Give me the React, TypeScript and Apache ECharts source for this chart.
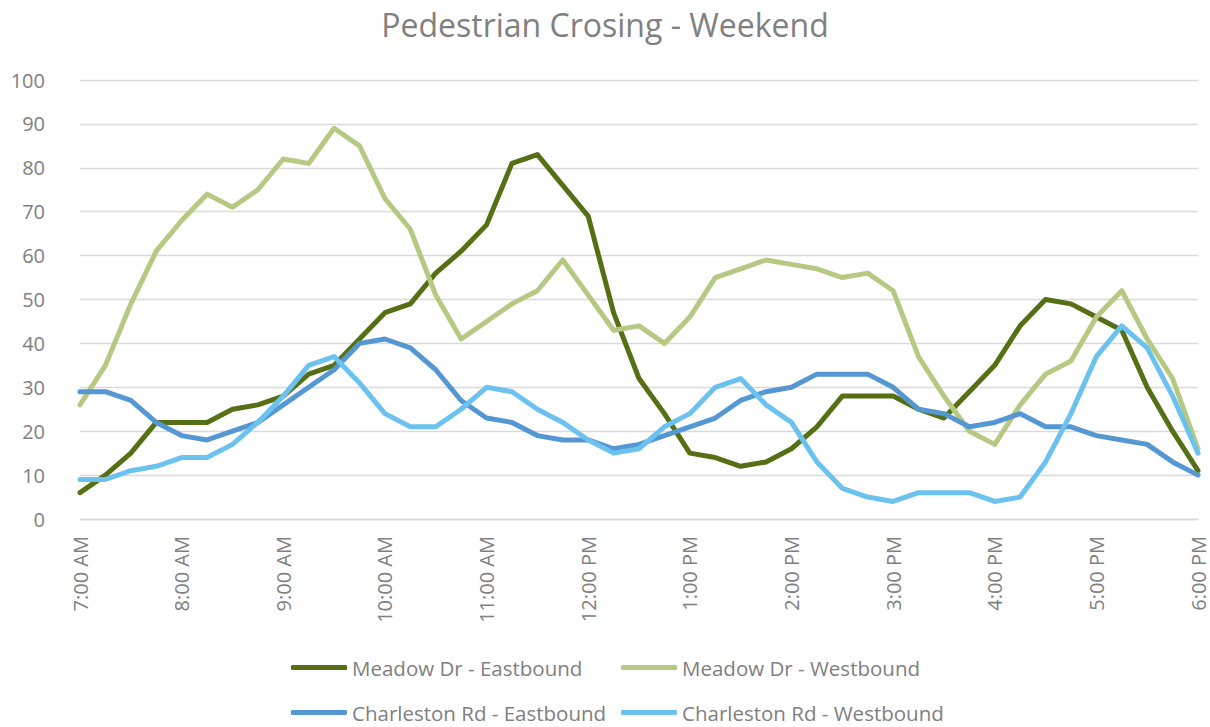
import React, { useEffect, useRef } from "react";
import * as echarts from "echarts";

const times: string[] = [
  "7:00 AM","7:15 AM","7:30 AM","7:45 AM",
  "8:00 AM","8:15 AM","8:30 AM","8:45 AM",
  "9:00 AM","9:15 AM","9:30 AM","9:45 AM",
  "10:00 AM","10:15 AM","10:30 AM","10:45 AM",
  "11:00 AM","11:15 AM","11:30 AM","11:45 AM",
  "12:00 PM","12:15 PM","12:30 PM","12:45 PM",
  "1:00 PM","1:15 PM","1:30 PM","1:45 PM",
  "2:00 PM","2:15 PM","2:30 PM","2:45 PM",
  "3:00 PM","3:15 PM","3:30 PM","3:45 PM",
  "4:00 PM","4:15 PM","4:30 PM","4:45 PM",
  "5:00 PM","5:15 PM","5:30 PM","5:45 PM",
  "6:00 PM",
];

const meadowEast: number[] = [
  6, 10, 15, 22, 22, 22, 25, 26, 28, 33, 35, 41, 47, 49, 56, 61, 67, 81, 83, 76,
  69, 47, 32, 24, 15, 14, 12, 13, 16, 21, 28, 28, 28, 25, 23, 29, 35, 44, 50, 49,
  46, 43, 30, 20, 11,
];
const meadowWest: number[] = [
  26, 35, 49, 61, 68, 74, 71, 75, 82, 81, 89, 85, 73, 66, 51, 41, 45, 49, 52, 59,
  51, 43, 44, 40, 46, 55, 57, 59, 58, 57, 55, 56, 52, 37, 28, 20, 17, 26, 33, 36,
  46, 52, 41, 32, 16,
];
const charlestonEast: number[] = [
  29, 29, 27, 22, 19, 18, 20, 22, 26, 30, 34, 40, 41, 39, 34, 27, 23, 22, 19, 18,
  18, 16, 17, 19, 21, 23, 27, 29, 30, 33, 33, 33, 30, 25, 24, 21, 22, 24, 21, 21,
  19, 18, 17, 13, 10,
];
const charlestonWest: number[] = [
  9, 9, 11, 12, 14, 14, 17, 22, 28, 35, 37, 31, 24, 21, 21, 25, 30, 29, 25, 22,
  18, 15, 16, 21, 24, 30, 32, 26, 22, 13, 7, 5, 4, 6, 6, 6, 4, 5, 13, 24,
  37, 44, 39, 28, 15,
];

const seriesNames = [
  "Meadow Dr - Eastbound",
  "Meadow Dr - Westbound",
  "Charleston Rd - Eastbound",
  "Charleston Rd - Westbound",
];
const seriesColors = ["#557014", "#B6C983", "#5497D2", "#6CC2EE"];
const seriesData = [meadowEast, meadowWest, charlestonEast, charlestonWest];

const FONT = "'Open Sans', 'Noto Sans', sans-serif";
const GRAY = "#808080";

export default function App() {
  const ref = useRef<HTMLDivElement>(null);
  useEffect(() => {
    if (!ref.current) return;
    const chart = echarts.init(ref.current, null, { renderer: "svg" });
    const legendPos = [
      { left: 286, top: 652 },
      { left: 616, top: 652 },
      { left: 286, top: 697 },
      { left: 616, top: 697 },
    ];
    chart.setOption({
      animation: false,
      backgroundColor: "#ffffff",
      title: {
        text: "Pedestrian Crosing - Weekend",
        left: "center",
        top: 3,
        textStyle: { fontFamily: FONT, fontSize: 32, fontWeight: "normal", color: GRAY },
      },
      legend: seriesNames.map((n, i) => ({
        data: [n],
        left: legendPos[i].left,
        top: legendPos[i].top,
        itemWidth: 56,
        itemHeight: 5,
        icon: "roundRect",
        textStyle: { fontFamily: FONT, fontSize: 20.5, color: GRAY },
      })),
      grid: { left: 80, right: 12, top: 80, bottom: 208, containLabel: false },
      xAxis: {
        type: "category",
        data: times,
        boundaryGap: false,
        axisLine: { show: true, lineStyle: { color: "#D9D9D9", width: 1.3 } },
        axisTick: { show: false },
        axisLabel: {
          interval: 3,
          rotate: 90,
          margin: 17,
          fontFamily: FONT,
          fontSize: 20,
          color: GRAY,
        },
        splitLine: { show: false },
      },
      yAxis: {
        type: "value",
        min: 0,
        max: 100,
        interval: 10,
        axisLine: { show: false },
        axisTick: { show: false },
        axisLabel: { margin: 35, fontFamily: FONT, fontSize: 20, color: GRAY },
        splitLine: { lineStyle: { color: "#D9D9D9", width: 1.3 } },
      },
      series: seriesNames.map((n, i) => ({
        name: n,
        type: "line",
        data: seriesData[i],
        showSymbol: false,
        symbol: "none",
        lineStyle: { color: seriesColors[i], width: 5, cap: "round", join: "round" },
        itemStyle: { color: seriesColors[i] },
      })),
    });
    return () => chart.dispose();
  }, []);
  return (
    <div
      ref={ref}
      style={{ position: "fixed", left: 0, top: 0, width: 1210, height: 727 }}
    />
  );
}
